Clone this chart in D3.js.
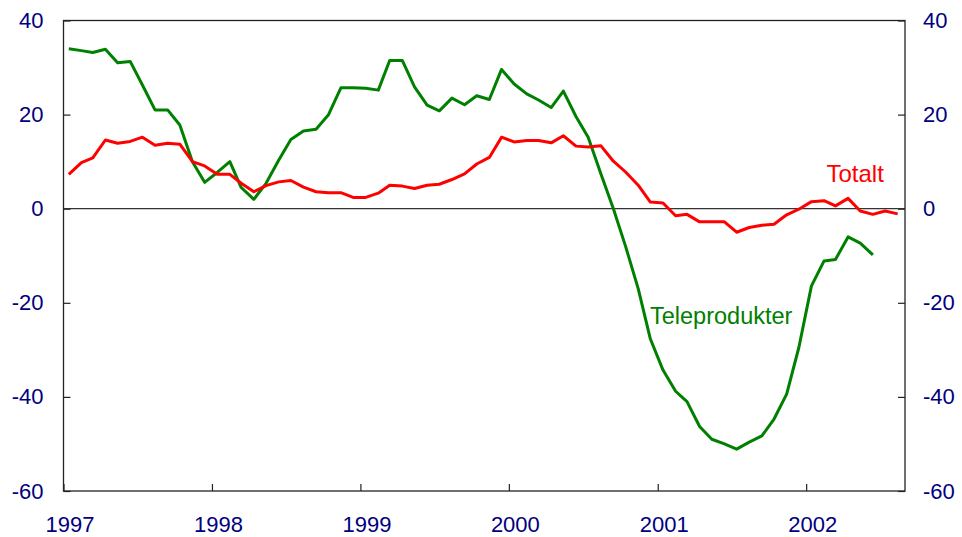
<!DOCTYPE html>
<html lang="no">
<head>
  <meta charset="utf-8">
  <title>Totalt og teleprodukter</title>
  <script src="https://cdn.jsdelivr.net/npm/d3@7"></script>
  <style>
    body { margin: 0; background: #fff; }
    svg { display: block; font-family: "Liberation Sans", Arial, sans-serif; }
    .axis text { fill: #000080; font-size: 22px; }
    .axis line { stroke: #222; stroke-width: 1.2; }
    .axis path { display: none; }
  </style>
</head>
<body>
<svg id="chart" width="962" height="537"></svg>
<script>
// monthly values, Jan 1997 onwards
var totalt = [7.3, 9.8, 10.8, 14.6, 13.9, 14.3, 15.2, 13.5, 13.9, 13.7, 10.0, 9.1,
              7.3, 7.3, 5.4, 3.6, 4.9, 5.7, 6.0, 4.6, 3.6, 3.4, 3.4, 2.4,
              2.4, 3.3, 5.0, 4.8, 4.3, 5.0, 5.2, 6.2, 7.4, 9.5, 10.9, 15.2,
              14.2, 14.5, 14.5, 14.0, 15.5, 13.3, 13.1, 13.4, 10.1, 7.8, 5.0, 1.4,
              1.2, -1.5, -1.2, -2.8, -2.8, -2.8, -5.0, -4.0, -3.5, -3.3, -1.3, -0.1,
              1.5, 1.7, 0.6, 2.2, -0.5, -1.2, -0.5, -1.1];

var teleprodukter = [34.0, 33.6, 33.2, 33.9, 31.0, 31.3, 26.3, 21.0, 21.0, 17.8, 10.0, 5.6,
                     7.7, 10.0, 4.5, 2.0, 5.4, 10.3, 14.7, 16.5, 16.9, 19.9, 25.7, 25.7,
                     25.6, 25.2, 31.5, 31.5, 25.9, 22.0, 20.8, 23.5, 22.1, 24.0, 23.2, 29.6,
                     26.5, 24.4, 23.1, 21.5, 25.0, 19.6, 15.2, 7.5, 0.0, -8.0, -17.0, -27.7,
                     -34.3, -38.8, -41.0, -46.3, -49.0, -50.0, -51.1, -49.6, -48.3, -44.7, -39.4, -29.5,
                     -16.4, -11.1, -10.8, -6.0, -7.3, -9.8];

var years = [1997, 1998, 1999, 2000, 2001, 2002];
var yTicks = [-60, -40, -20, 0, 20, 40];

var svg = d3.select("#chart");
var plotLeft = 63.5, plotRight = 905, plotTop = 20.5, plotBottom = 491;

var x = d3.scaleTime()
    .domain([new Date(1997, 0, 1), new Date(2002, 8, 1)])
    .range([plotLeft, plotRight]);
var y = d3.scaleLinear().domain([-60, 40]).range([plotBottom, plotTop]);

function toPoints(arr) {
  return arr.map(function(v, i) { return { date: new Date(1997, i, 14), value: v }; });
}

// plain hyphen for negatives, like the original
var yFormat = function(d) { return String(d); };

// axes
svg.append("g").attr("class", "axis")
    .attr("transform", "translate(" + plotLeft + ",0)")
    .call(d3.axisLeft(y).tickValues(yTicks).tickFormat(yFormat)
      .tickSizeInner(-7).tickSizeOuter(0).tickPadding(20));

svg.append("g").attr("class", "axis")
    .attr("transform", "translate(" + plotRight + ",0)")
    .call(d3.axisRight(y).tickValues(yTicks).tickFormat(yFormat)
      .tickSizeInner(-7).tickSizeOuter(0).tickPadding(18));

var xAxis = svg.append("g").attr("class", "axis")
    .attr("transform", "translate(0," + plotBottom + ")")
    .call(d3.axisBottom(x)
      .tickValues(years.map(function(d) { return new Date(d, 0, 1); }))
      .tickFormat(d3.timeFormat("%Y"))
      .tickSizeInner(-7).tickSizeOuter(0).tickPadding(25.5));
xAxis.selectAll("text").attr("dx", 6);

// frame
svg.append("rect")
    .attr("x", plotLeft).attr("y", plotTop)
    .attr("width", plotRight - plotLeft).attr("height", plotBottom - plotTop)
    .attr("fill", "none").attr("stroke", "#222").attr("stroke-width", 1.3);

// zero line
svg.append("line")
    .attr("x1", plotLeft).attr("x2", plotRight)
    .attr("y1", y(0)).attr("y2", y(0))
    .attr("stroke", "#333").attr("stroke-width", 1.2);

var line = d3.line()
    .x(function(d) { return x(d.date); })
    .y(function(d) { return y(d.value); });

svg.append("path")
    .datum(toPoints(teleprodukter))
    .attr("d", line)
    .attr("fill", "none").attr("stroke", "#008000").attr("stroke-width", 3)
    .attr("stroke-linejoin", "round");

svg.append("path")
    .datum(toPoints(totalt))
    .attr("d", line)
    .attr("fill", "none").attr("stroke", "#ff0000").attr("stroke-width", 3)
    .attr("stroke-linejoin", "round");

// labels
svg.append("text")
    .attr("x", 826.5).attr("y", 181.5)
    .attr("fill", "#ff0000").style("font-size", "24px")
    .text("Totalt");

svg.append("text")
    .attr("x", 650).attr("y", 324)
    .attr("fill", "#008000").style("font-size", "23.5px")
    .text("Teleprodukter");
</script>
</body>
</html>
